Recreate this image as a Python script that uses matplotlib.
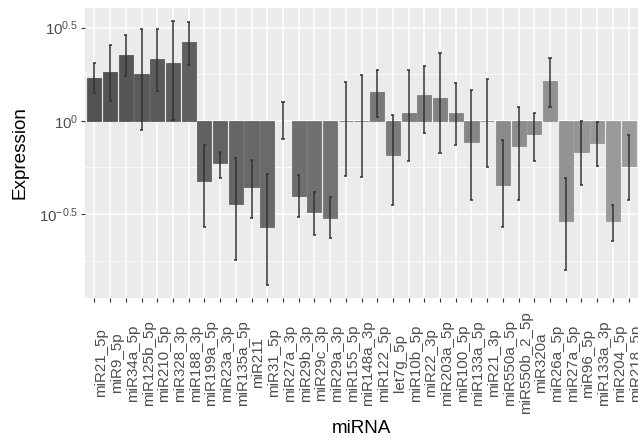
import numpy as np
import matplotlib
matplotlib.use('Agg')
import matplotlib.pyplot as plt
from matplotlib.ticker import FixedLocator, NullFormatter, FixedFormatter
from matplotlib.transforms import blended_transform_factory

# ---------------- data ----------------
mirnas = ["miR21_5p", "miR9_5p", "miR34a_5p", "miR125b_5p", "miR210_5p", "miR328_3p",
          "miR188_3p", "miR199a_5p", "miR23a_3p", "miR135a_5p", "miR211", "miR31_5p",
          "miR27a_3p", "miR29b_3p", "miR29c_3p", "miR29a_3p", "miR155_5p", "miR148a_3p",
          "miR122_5p", "let7g_5p", "miR10b_5p", "miR22_3p", "miR203a_5p", "miR100_5p",
          "miR133a_5p", "miR21_3p", "miR550a_5p", "miR550b_2_5p", "miR320a", "miR26a_5p",
          "miR27a_5p", "miR96_5p", "miR133a_3p", "miR204_5p", "miR218_5p"]

expression = [1.690, 1.816, 2.249, 1.778, 2.133, 2.032, 2.655,
              0.478, 0.593, 0.358, 0.444, 0.269, np.nan, 0.395, 0.324, 0.303,
              1.0, 1.0, 1.429, 0.653, 1.096, 1.374, 1.318, 1.102, 0.769, 1.0,
              0.455, 0.736, 0.853, 1.637, 0.292, 0.681, 0.760, 0.289, 0.571]

err_high = [2.042, 2.553, 2.884, 3.112, 3.119, 3.420, 3.381,
            0.741, 0.684, 0.632, 0.619, 0.518, 1.256, 0.509, 0.417, 0.390,
            1.622, 1.758, 1.862, 1.079, 1.871, 1.972, 2.301, 1.585, 1.466, 1.675,
            0.792, 1.189, 1.102, 2.183, 0.493, 1.002, 0.982, 0.355, 0.837]

err_low = [1.403, 1.274, 1.730, 0.897, 1.445, 1.016, 1.982,
           0.269, 0.493, 0.180, 0.301, 0.132, 0.794, 0.306, 0.244, 0.234,
           0.505, 0.498, 1.052, 0.353, 0.605, 0.863, 0.673, 0.738, 0.378, 0.564,
           0.269, 0.378, 0.610, 1.186, 0.159, 0.453, 0.569, 0.228, 0.378]

y_major_exp = [-0.5, 0.0, 0.5]
y_major_labels = [r'$10^{-0.5}$', r'$10^{0}$', r'$10^{0.5}$']
y_minor_exp = [-0.75, -0.25, 0.25]

x_title = "miRNA"
y_title = "Expression"

# ---------------- style ----------------
plt.rcParams['font.family'] = ['Liberation Sans', 'DejaVu Sans']
plt.rcParams['mathtext.fontset'] = 'custom'
plt.rcParams['mathtext.rm'] = 'Liberation Sans'
plt.rcParams['mathtext.it'] = 'Liberation Sans:italic'
plt.rcParams['mathtext.bf'] = 'Liberation Sans:bold'

W, H = 638, 444
fig = plt.figure(figsize=(W / 100, H / 100), dpi=100)
left, right, top, bottom = 85, 638, 8, 298
ax = fig.add_axes([left / W, (H - bottom) / H, (right - left) / W, (bottom - top) / H])
ax.set_yscale('log')
ax.set_facecolor('#EBEBEB')
for s in ax.spines.values():
    s.set_visible(False)

n = len(mirnas)
x = np.arange(n)
expr = np.array(expression, dtype=float)
lo = np.array(err_low, dtype=float)
hi = np.array(err_high, dtype=float)

greys = np.linspace(0x52, 0x9c, n) / 255.0
colors = [(g, g, g) for g in greys]

valid = ~np.isnan(expr)
ax.bar(x[valid], expr[valid] - 1.0, bottom=1.0, width=0.9,
       color=[colors[i] for i in x[valid]],
       edgecolor=[colors[i] for i in x[valid]], linewidth=0.6, zorder=2)

ax.vlines(x, lo, hi, color='#333333', linewidth=1.1, zorder=3)
ax.hlines(lo, x - 0.1, x + 0.1, color='#333333', linewidth=1.1, zorder=3)
ax.hlines(hi, x - 0.1, x + 0.1, color='#333333', linewidth=1.1, zorder=3)

# limits (ggplot-like 5% expansion in log space, 0.6 on discrete x)
lmin, lmax = np.log10(lo.min()), np.log10(hi.max())
rng = lmax - lmin
ax.set_ylim(10 ** (lmin - 0.05 * rng), 10 ** (lmax + 0.05 * rng))
ax.set_xlim(-0.6, n - 1 + 0.6)

ax.yaxis.set_major_locator(FixedLocator([10 ** e for e in y_major_exp]))
ax.yaxis.set_major_formatter(FixedFormatter(y_major_labels))
ax.yaxis.set_minor_locator(FixedLocator([10 ** e for e in y_minor_exp]))
ax.yaxis.set_minor_formatter(NullFormatter())
ax.set_xticks(x)
ax.set_xticklabels([])

ax.grid(which='major', color='white', linewidth=1.1, zorder=0)
ax.grid(which='minor', axis='y', color='white', linewidth=0.55, zorder=0)
ax.set_axisbelow(True)

ax.tick_params(which='major', length=2.75, width=0.8, color='#333333',
               labelcolor='#4D4D4D', labelsize=10.9, pad=2.2)
ax.tick_params(which='minor', length=0)

trans = blended_transform_factory(ax.transData, fig.transFigure)
for i, lab in enumerate(mirnas):
    ax.text(i, (H - 363) / H, lab, transform=trans, rotation=90,
            rotation_mode='anchor', ha='center', va='top',
            fontsize=10.9, color='#4D4D4D')

fig.text((left + right) / 2 / W, (H - 428) / H, x_title, ha='center', va='center',
         fontsize=13.6, color='black')
fig.text(20 / W, (H - 153) / H, y_title, ha='center', va='center', rotation=90,
         fontsize=13.6, color='black')

fig.savefig('out.png', dpi=100)
